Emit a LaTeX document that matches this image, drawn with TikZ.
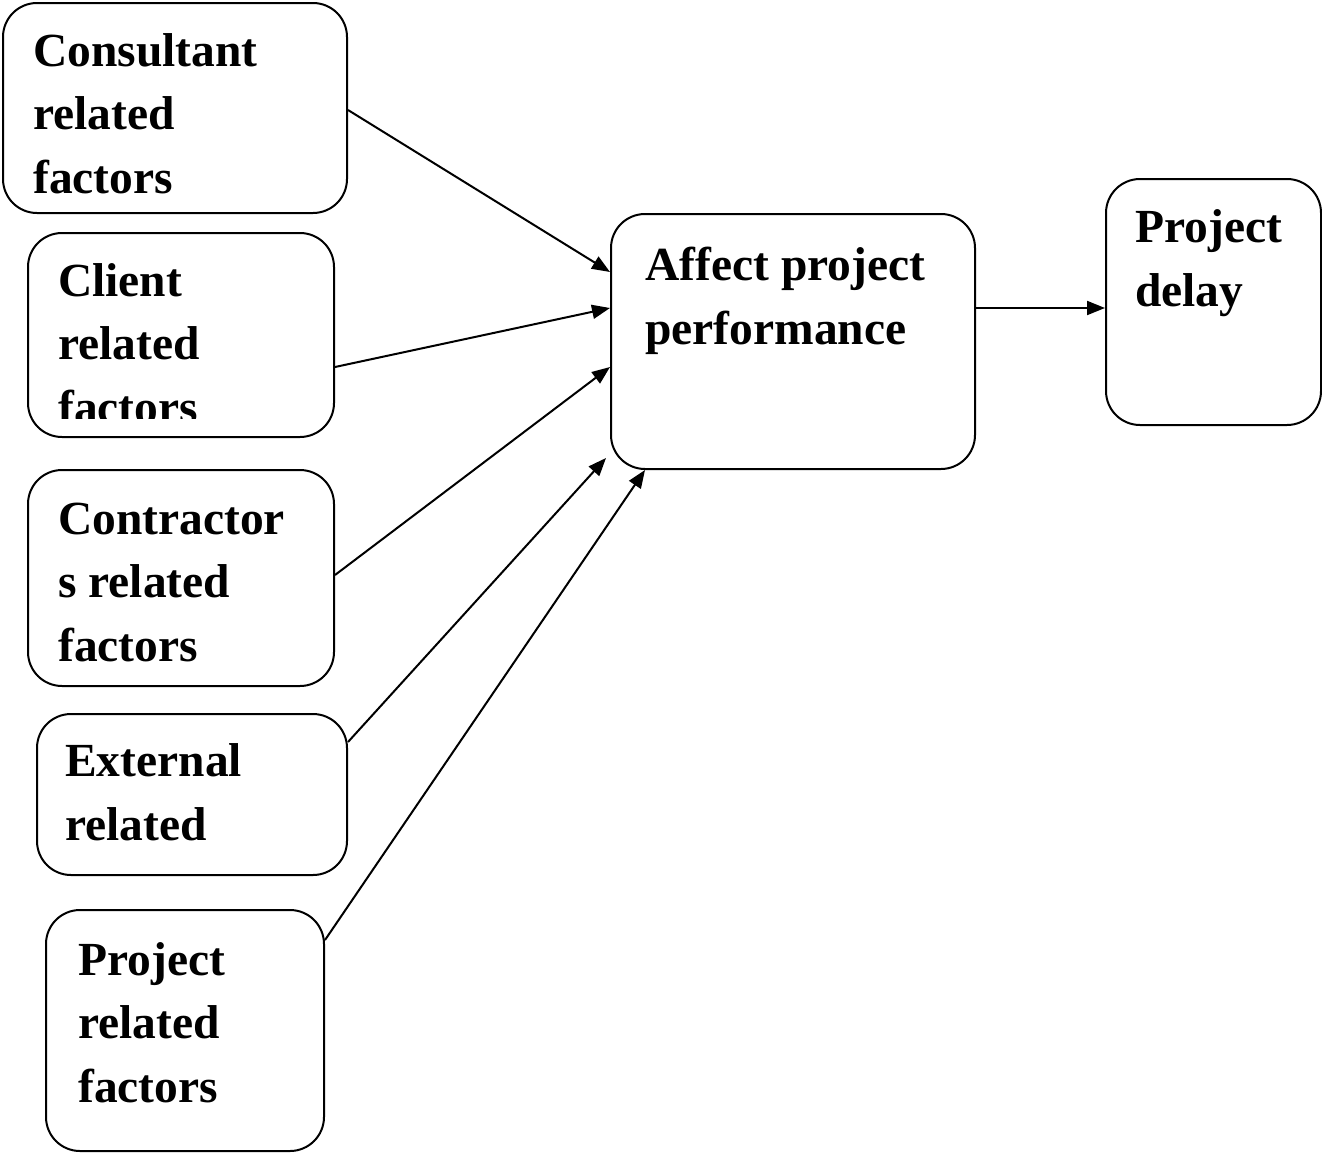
\documentclass[tikz,border=0pt]{standalone}
\usepackage{fontspec}
\setmainfont{Liberation Serif}
\usetikzlibrary{arrows.meta}
\tikzset{
  box/.style={draw, line width=2pt, rounded corners=34pt, inner sep=0pt, fill=white},
  lbl/.style={anchor=base west, inner sep=0pt, align=left, font=\fontsize{47.5}{63.5}\selectfont\bfseries},
  conn/.style={line width=2pt, -{Triangle[length=18pt,width=14pt]}}
}
\begin{document}
\begin{tikzpicture}[x=1pt,y=-1pt]
\useasboundingbox (0,0) rectangle (1322,1154);
% boxes
\node[box, minimum width=344pt, minimum height=210pt] (cons) at (175,108) {};
\node[box, minimum width=306pt, minimum height=204pt] (cli) at (181,335) {};
\node[box, minimum width=306pt, minimum height=216pt] (cont) at (181,578) {};
\node[box, minimum width=310pt, minimum height=161pt] (ext) at (192,794.5) {};
\node[box, minimum width=278pt, minimum height=241pt] (proj) at (185,1030.5) {};
\node[box, minimum width=364pt, minimum height=255pt] (aff) at (793,341.5) {};
\node[box, minimum width=215pt, minimum height=246pt] (del) at (1213.5,302) {};
% texts (anchor = baseline of last line)
\node[lbl] (tcons) at (33,193) {Consultant\\related\\factors};
\begin{scope}
\clip (0,0) rectangle (1322,418);
\node[lbl] (tcli) at (58,423) {Client\\related\\factors};
\end{scope}
\node[lbl] (tcont) at (58,661) {Contractor\\s related\\factors};
\node[lbl] (text) at (65,840) {External\\related};
\node[lbl] (tproj) at (78,1102) {Project\\related\\factors};
\node[lbl] (taff) at (645,344) {Affect project\\performance};
\node[lbl] (tdel) at (1135,306) {Project\\delay};
% connectors
\coordinate (e4) at ([xshift=-4pt,yshift=-116.5pt]aff.west);
\draw[conn] ([yshift=-2pt]cons.east) -- ([yshift=69.5pt]aff.west);
\draw[conn] ([yshift=-32pt]cli.east) -- ([yshift=33.5pt]aff.west);
\draw[conn] ([yshift=3pt]cont.east) -- ([yshift=-25.5pt]aff.west);
\draw[conn] ([yshift=52.5pt]ext.east) -- (e4);
\draw[conn] ([yshift=90.5pt]proj.east) -- ([xshift=-148pt]aff.south);
\draw[conn] ([yshift=33.5pt]aff.east) -- ([yshift=33.5pt]aff.east -| del.west);
\end{tikzpicture}
\end{document}
